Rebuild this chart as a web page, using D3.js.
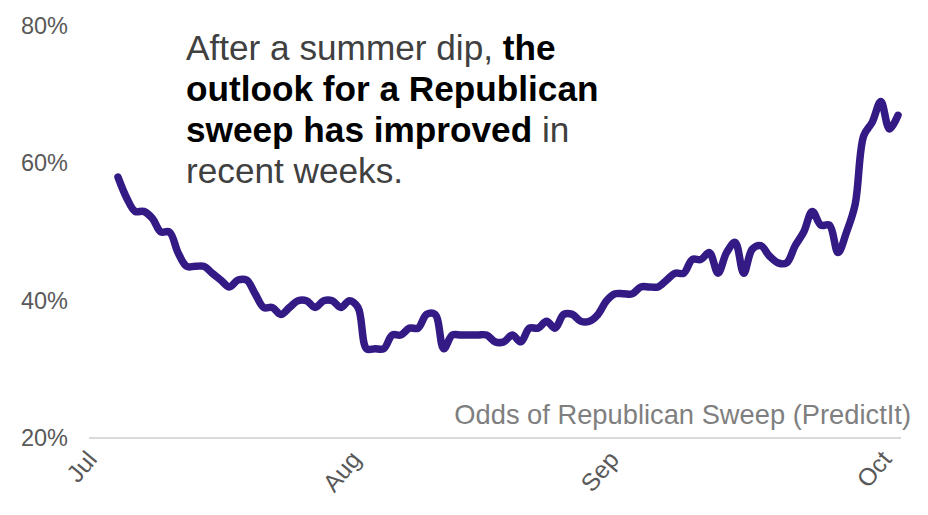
<!DOCTYPE html>
<html>
<head>
<meta charset="utf-8">
<script src="https://cdn.jsdelivr.net/npm/d3@7"></script>
<style>
  html, body { margin: 0; padding: 0; background: #fff; }
  svg { display: block; font-family: "Liberation Sans", Arial, sans-serif; }
</style>
</head>
<body>
<div id="chart"></div>
<script>
// daily odds
const odds = [
  58, 55, 53, 53, 52, 50, 50, 47, 45, 45,
  45, 44, 43, 42, 43, 43, 41, 39, 39, 38,
  39, 40, 40, 39, 40, 40, 39, 40, 39, 33,
  33, 33, 35, 35, 36, 36, 38, 38, 33, 35,
  35, 35, 35, 35, 34, 34, 35, 34, 36, 36,
  37, 36, 38, 38, 37, 37, 38, 40, 41, 41,
  41, 42, 42, 42, 43, 44, 44, 46, 46, 47,
  44, 47, 48.5, 44, 47.5, 48, 46.5, 45.5, 45.5, 48,
  50, 53, 51, 51, 47, 50, 54, 64, 66, 69,
  65, 67
];
const yTicks = [20, 40, 60, 80];
const monthLabels = ["Jul", "Aug", "Sep", "Oct"];
const monthPositions = [-3.9, 26.9, 57.0, 88.8]; // in observations from the first point
const titleLines = [
  [["After a summer dip, ", false], ["the", true]],
  [["outlook for a Republican", true]],
  [["sweep has improved", true], [" in", false]],
  [["recent weeks.", false]]
];
const caption = "Odds of Republican Sweep (PredictIt)";

const width = 928, height = 515;

const x = d3.scaleLinear().domain([0, odds.length - 1]).range([118, 898]);
const y = d3.scaleLinear().domain([20, 80]).range([438, 26]);

const svg = d3.select("#chart").append("svg")
  .attr("width", width)
  .attr("height", height);

// baseline
svg.append("line")
  .attr("x1", 89).attr("x2", 901)
  .attr("y1", y(20)).attr("y2", y(20))
  .attr("stroke", "#d9d9d9")
  .attr("stroke-width", 2);

// y axis labels
const yAxis = svg.append("g")
  .attr("transform", "translate(68,0)")
  .call(d3.axisLeft(y).tickValues(yTicks).tickFormat(d => d + "%").tickSize(0).tickPadding(0));
yAxis.select(".domain").remove();
yAxis.selectAll("text")
  .attr("font-size", 23.5)
  .attr("fill", "#595959");

// x axis labels
const xAxis = svg.append("g")
  .attr("transform", "translate(0,449)")
  .call(d3.axisBottom(x).tickValues(monthPositions).tickFormat((d, i) => monthLabels[i]).tickSize(0).tickPadding(0));
xAxis.select(".domain").remove();
xAxis.selectAll("text")
  .attr("font-size", 24.5)
  .attr("fill", "#595959")
  .attr("text-anchor", "end")
  .attr("dy", "0.7em")
  .attr("transform", "rotate(-50)");

// the line
const line = d3.line()
  .x((d, i) => x(i))
  .y(d => y(d))
  .curve(d3.curveCatmullRom.alpha(0.5));

svg.append("path")
  .datum(odds)
  .attr("d", line)
  .attr("fill", "none")
  .attr("stroke", "#331a85")
  .attr("stroke-width", 7.5)
  .attr("stroke-linejoin", "round")
  .attr("stroke-linecap", "round");

// headline
const title = svg.append("text")
  .attr("font-size", 35.2)
  .attr("fill", "#404040");
titleLines.forEach((parts, i) => {
  parts.forEach((p, j) => {
    const span = title.append("tspan").text(p[0]);
    if (j === 0) span.attr("x", 186).attr("y", 60 + i * 41);
    if (p[1]) span.attr("font-weight", "bold").attr("fill", "#000");
  });
});

// source caption
svg.append("text")
  .attr("x", 911)
  .attr("y", 424)
  .attr("text-anchor", "end")
  .attr("font-size", 27.3)
  .attr("fill", "#7f7f7f")
  .text(caption);
</script>
</body>
</html>
